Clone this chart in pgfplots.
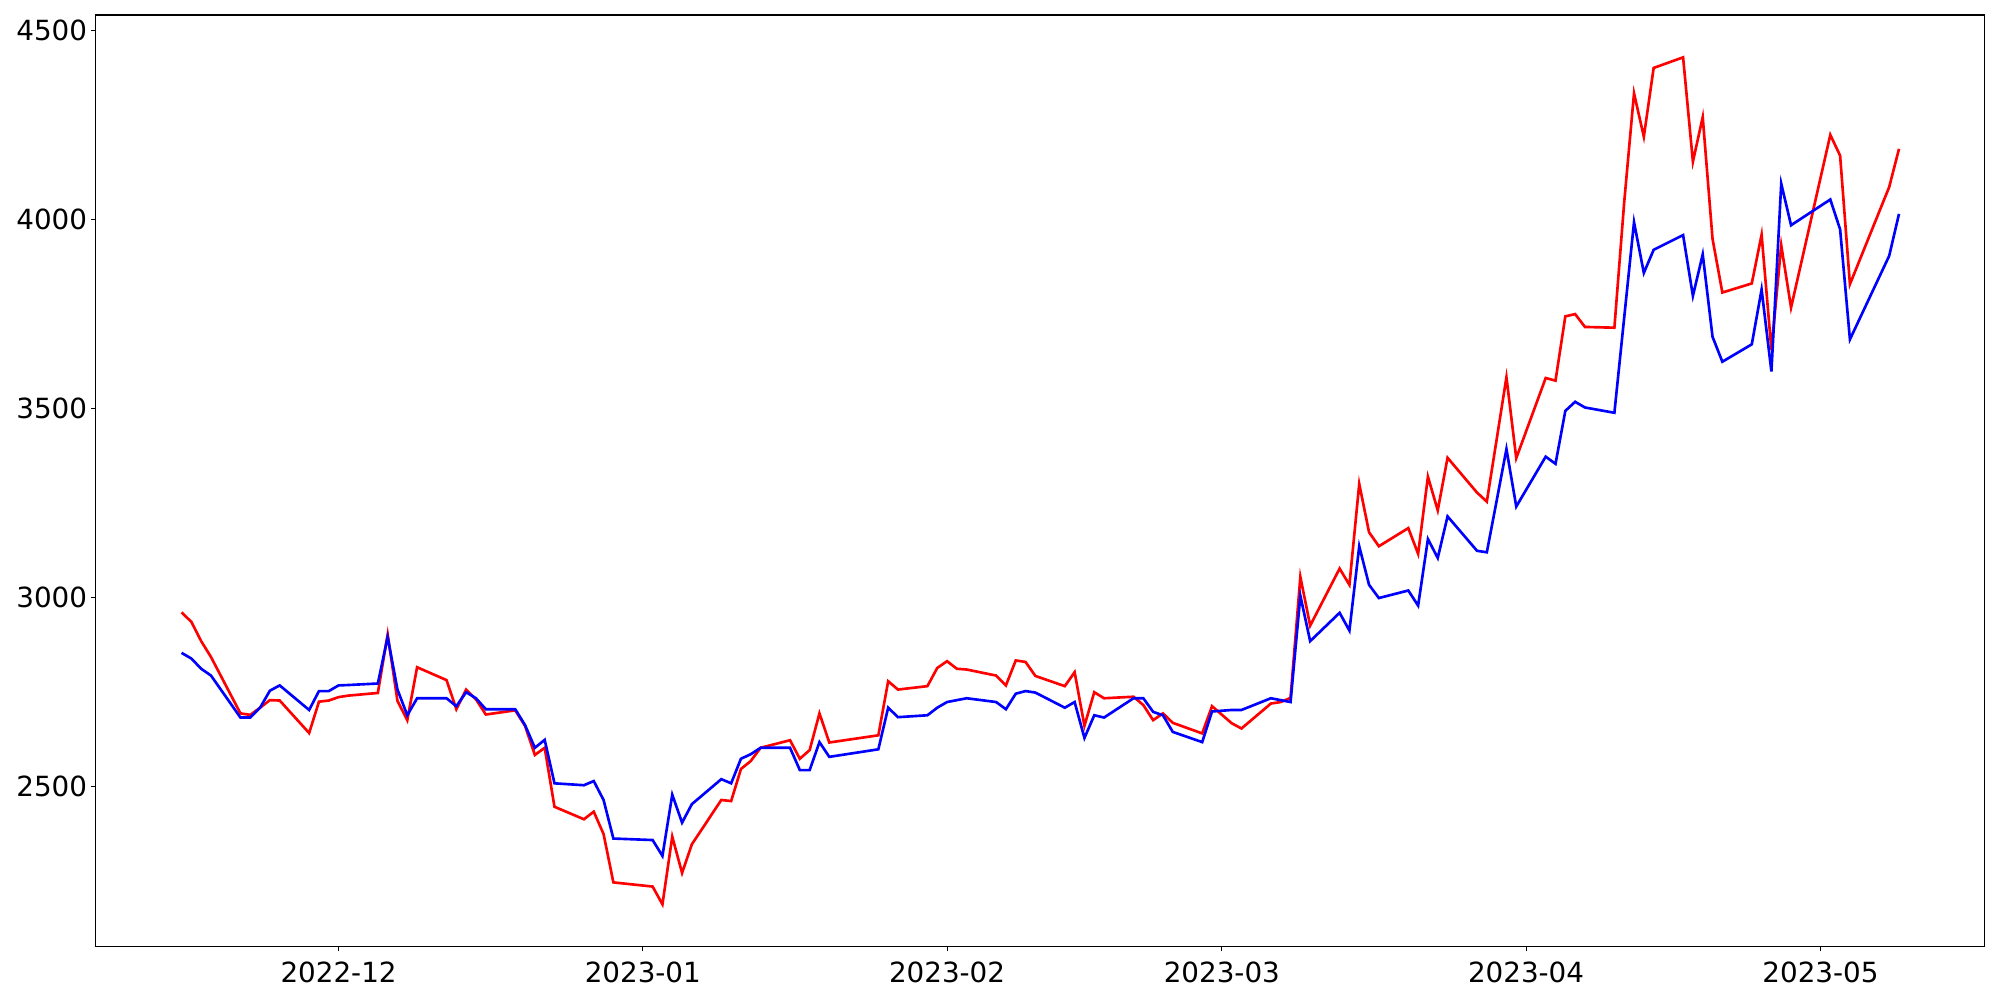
\documentclass[border=0pt]{standalone}
\usepackage{pgfplots}
\pgfplotsset{compat=1.18}
\usepackage{fontspec}
\setmainfont{DejaVu Sans}
\begin{document}
\begin{tikzpicture}[x=1pt,y=1pt]
\begin{axis}[
  at={(0,0)}, anchor=south west,
  scale only axis,
  width=680.1pt, height=335.4pt,
  xmin=-24.75, xmax=167.75,
  ymin=2076, ymax=4540,
  xtick={0,31,62,90,121,151},
  xticklabels={2022-12,2023-01,2023-02,2023-03,2023-04,2023-05},
  ytick={2500,3000,3500,4000,4500},
  /pgf/number format/1000 sep={},
  /pgf/number format/assume math mode=true,
  tick align=outside,
  major tick length=1.6pt,
  tick style={line width=0.3pt, black},
  axis line style={line width=0.4pt},
  tick label style={font=\fontsize{10}{12}\selectfont},
  xtick pos=bottom, ytick pos=left,
  yticklabel style={inner sep=0pt, xshift=-1.3pt},
  xticklabel style={inner sep=0pt, yshift=-3.6pt},
  clip=true,
]
\addplot[red, line width=0.95pt] coordinates {
(-16,2960) (-15,2935) (-14,2884) (-13,2842) (-10,2693) (-9,2689) (-8,2708) (-7,2728) (-6,2727)
(-3,2641) (-2,2724) (-1,2727) (0,2736) (1,2740) (4,2747) (5,2902) (6,2726) (7,2675) (8,2815)
(11,2781) (12,2704) (13,2756) (14,2730) (15,2690) (18,2701) (19,2660) (20,2583) (21,2602) (22,2446)
(25,2413) (26,2433) (27,2374) (28,2246) (32,2235) (33,2188) (34,2367) (35,2271) (36,2347)
(39,2464) (40,2461) (41,2546) (42,2567) (43,2602) (46,2622) (47,2573) (48,2596) (49,2693) (50,2616)
(55,2635) (56,2778) (57,2756) (60,2765) (61,2813) (62,2831) (63,2811) (64,2809)
(67,2793) (68,2767) (69,2833) (70,2829) (71,2792) (74,2765) (75,2802) (76,2660) (77,2749) (78,2733)
(81,2737) (82,2715) (83,2675) (84,2693) (85,2668) (88,2640) (89,2712) (91,2667) (92,2653)
(95,2719) (96,2723) (97,2734) (98,3054) (99,2925) (102,3076) (103,3033) (104,3300) (105,3172) (106,3135)
(109,3183) (110,3115) (111,3319) (112,3230) (113,3369) (116,3277) (117,3253) (118,3417) (119,3582) (120,3368)
(123,3580) (124,3573) (125,3743) (126,3749) (127,3715) (130,3713) (131,4045) (132,4333) (133,4218) (134,4400)
(137,4428) (138,4152) (139,4270) (140,3948) (141,3806) (144,3830) (145,3959) (146,3654) (147,3931) (148,3766)
(152,4223) (153,4168) (154,3828) (158,4085) (159,4186)
};
\addplot[blue, line width=0.95pt] coordinates {
(-16,2853) (-15,2838) (-14,2811) (-13,2793) (-10,2682) (-9,2682) (-8,2708) (-7,2753) (-6,2767)
(-3,2702) (-2,2752) (-1,2752) (0,2767) (1,2768) (4,2772) (5,2895) (6,2756) (7,2688) (8,2733)
(11,2733) (12,2712) (13,2749) (14,2733) (15,2704) (18,2704) (19,2662) (20,2602) (21,2623) (22,2508)
(25,2503) (26,2514) (27,2464) (28,2362) (32,2358) (33,2316) (34,2478) (35,2404) (36,2453)
(39,2519) (40,2508) (41,2573) (42,2585) (43,2602) (46,2602) (47,2543) (48,2543) (49,2617) (50,2578)
(55,2598) (56,2708) (57,2683) (60,2688) (61,2708) (62,2723) (63,2728) (64,2733)
(67,2723) (68,2704) (69,2745) (70,2752) (71,2748) (74,2708) (75,2723) (76,2628) (77,2688) (78,2682)
(81,2733) (82,2733) (83,2697) (84,2688) (85,2644) (88,2617) (89,2698) (91,2702) (92,2702)
(95,2733) (96,2728) (97,2723) (98,3004) (99,2884) (102,2959) (103,2912) (104,3135) (105,3033) (106,2998)
(109,3018) (110,2978) (111,3154) (112,3104) (113,3214) (116,3123) (117,3119) (118,3255) (119,3392) (120,3240)
(123,3372) (124,3353) (125,3493) (126,3517) (127,3502) (130,3488) (131,3740) (132,3992) (133,3858) (134,3919)
(137,3958) (138,3797) (139,3907) (140,3689) (141,3623) (144,3669) (145,3814) (146,3597) (147,4094) (148,3984)
(152,4052) (153,3973) (154,3682) (158,3903) (159,4014)
};
\end{axis}
\path[use as bounding box] (-34.45pt,-19.2pt) rectangle (685.55pt,340.8pt);
\end{tikzpicture}
\end{document}
